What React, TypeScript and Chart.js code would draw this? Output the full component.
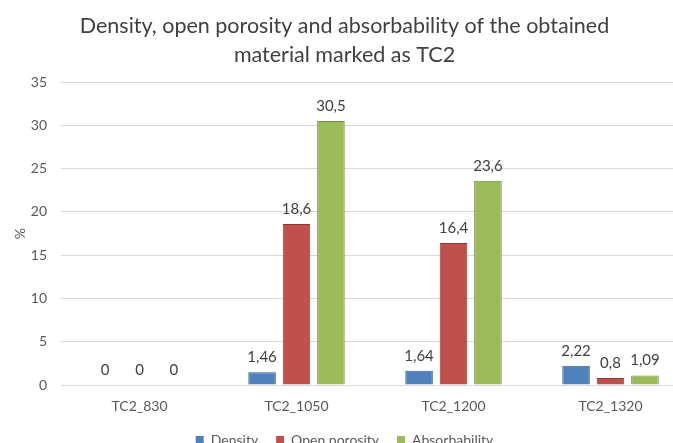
import React, { useEffect, useRef } from "react";
import { Chart, registerables } from "chart.js";

Chart.register(...registerables);

const categories = ["TC2_830", "TC2_1050", "TC2_1200", "TC2_1320"];
const density = [0, 1.46, 1.64, 2.22];
const openPorosity = [0, 18.6, 16.4, 0.8];
const absorbability = [0, 30.5, 23.6, 1.09];
const yTicks = [0, 5, 10, 15, 20, 25, 30, 35];

const FONT = "Lato";
const TEXT = "#595959";

const fmt = (v: number) => String(v).replace(".", ",");

// Writes each bar's value above it, with a comma as decimal separator
const valueLabels = {
  id: "valueLabels",
  afterDatasetsDraw(chart: any) {
    const { ctx } = chart;
    ctx.save();
    ctx.font = `15px ${FONT}`;
    ctx.fillStyle = "#404040";
    ctx.textAlign = "center";
    ctx.textBaseline = "middle";
    chart.data.datasets.forEach((ds: any, i: number) => {
      const meta = chart.getDatasetMeta(i);
      meta.data.forEach((bar: any, j: number) => {
        ctx.fillText(fmt(ds.data[j]), bar.x, bar.y - 15);
      });
    });
    ctx.restore();
  },
};

export default function App() {
  const ref = useRef<HTMLCanvasElement>(null);

  useEffect(() => {
    if (!ref.current) return;
    const series = [
      { label: "Density", data: density, bg: "#4f81bd", bd: "#385d8a" },
      { label: "Open porosity", data: openPorosity, bg: "#c0504d", bd: "#8c3836" },
      { label: "Absorbability", data: absorbability, bg: "#9bbb59", bd: "#71893f" },
    ];
    const chart = new Chart(ref.current, {
      type: "bar",
      data: {
        labels: categories,
        datasets: series.map((s) => ({
          label: s.label,
          data: s.data,
          backgroundColor: s.bg,
          borderColor: s.bd,
          borderWidth: (c: any) => (c.raw === 0 ? 0 : 1),
          categoryPercentage: 0.658,
          barPercentage: 0.8,
        })),
      },
      options: {
        responsive: false,
        maintainAspectRatio: false,
        animation: false,
        layout: { padding: { left: 0, right: 11, top: 0, bottom: 0 } },
        plugins: {
          title: {
            display: true,
            text: [
              "Density, open porosity and absorbability of the obtained",
              "material marked as TC2",
            ],
            color: "#404040",
            font: { family: FONT, size: 21.5, weight: "normal", lineHeight: 1.35 },
            padding: { top: 12, bottom: 12 },
          },
          legend: {
            position: "bottom",
            labels: {
              color: TEXT,
              font: { family: FONT, size: 14 },
              boxWidth: 8,
              boxHeight: 8,
              padding: 18,
            },
          },
          tooltip: { enabled: false },
        },
        scales: {
          x: {
            grid: { display: false },
            border: { display: false },
            ticks: { color: TEXT, font: { family: FONT, size: 14 }, padding: 5 },
            afterFit: (s: any) => {
              s.height = 30;
            },
          },
          y: {
            min: 0,
            max: 35,
            afterBuildTicks: (s: any) => {
              s.ticks = yTicks.map((v) => ({ value: v }));
            },
            grid: { color: "#d9d9d9", drawTicks: false },
            border: { display: false },
            ticks: { color: TEXT, font: { family: FONT, size: 14 }, padding: 14 },
            title: {
              display: true,
              text: "%",
              color: TEXT,
              font: { family: FONT, size: 14 },
              padding: { top: 12, bottom: 0 },
            },
            afterFit: (s: any) => {
              s.width = 61;
            },
          },
        },
      },
      plugins: [valueLabels],
    });
    return () => chart.destroy();
  }, []);

  return (
    <div
      style={{
        position: "fixed",
        left: 0,
        top: 0,
        width: 673,
        height: 443,
        overflow: "hidden",
        background: "#fff",
      }}
    >
      <canvas ref={ref} width={700} height={457} style={{ width: 700, height: 457 }} />
    </div>
  );
}
